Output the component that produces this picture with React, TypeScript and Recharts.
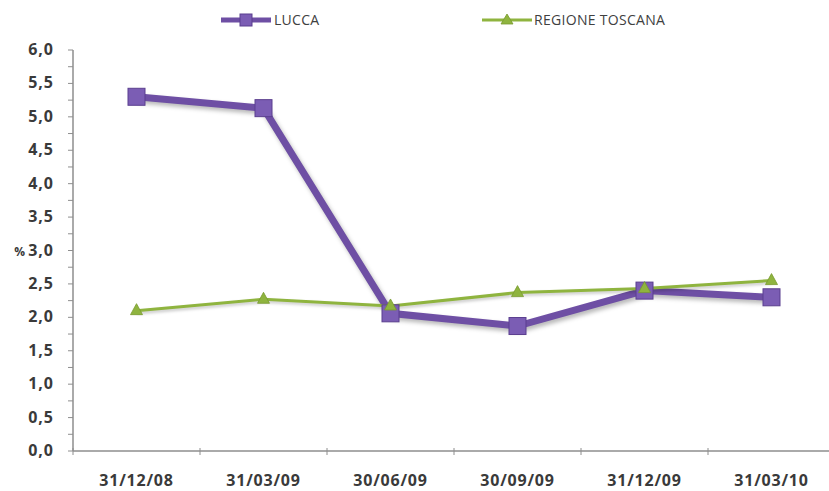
import React from 'react';
import { LineChart, Line, XAxis, YAxis } from 'recharts';

const categories = ['31/12/08', '31/03/09', '30/06/09', '30/09/09', '31/12/09', '31/03/10'];
const luccaValues = [5.3, 5.13, 2.06, 1.87, 2.4, 2.3];
const toscanaValues = [2.1, 2.27, 2.17, 2.37, 2.43, 2.55];
const yTicks = [0, 0.25, 0.5, 0.75, 1, 1.25, 1.5, 1.75, 2, 2.25, 2.5, 2.75, 3, 3.25, 3.5, 3.75, 4, 4.25, 4.5, 4.75, 5, 5.25, 5.5, 5.75, 6];
const seriesNames = { lucca: 'LUCCA', toscana: 'REGIONE TOSCANA' };

const data = categories.map((c, i) => ({ cat: c, lucca: luccaValues[i], toscana: toscanaValues[i] }));

const CHART_W = 845;
const CHART_H = 491;
const XAXIS_H = 30;
const MARGIN = { top: 50, right: 10, bottom: 10, left: 0 };
const YAXIS_W = 73;
const HALF_BAND = (CHART_W - MARGIN.left - MARGIN.right - YAXIS_W) / categories.length / 2;

const PURPLE = '#6e4fa4';
const PURPLE_FILL = '#7b5db4';
const GREEN = '#8fb43f';
const TEXT = '#3a3a3a';
const AXIS = '#8e8e8e';
const FONT = '"Open Sans", Lato, sans-serif';

const YTick = (props: any) => {
  const { x, y, payload } = props;
  const v = payload.value as number;
  if (Math.round(v * 2) !== v * 2) return <g />;
  return (
    <g>
      <text x={x - 12} y={y} dy={5} textAnchor="end" fontFamily={FONT} fontWeight={700} fontSize={16} letterSpacing={1} fill={TEXT}>
        {v.toFixed(1).replace('.', ',')}
      </text>
      {v === 3 && (
        <text x={x - 41} y={y} dy={5} textAnchor="end" fontFamily={FONT} fontWeight={700} fontSize={12} fill={TEXT}>
          %
        </text>
      )}
    </g>
  );
};

const XTick = (props: any) => {
  const { x, y, payload } = props;
  return (
    <g>
      <line x1={x - HALF_BAND} x2={x - HALF_BAND} y1={y - 3} y2={y + 4} stroke={AXIS} strokeWidth={1} />
      <text x={x} y={y + 35} textAnchor="middle" fontFamily={FONT} fontWeight={700} fontSize={16} letterSpacing={0.8} fill={TEXT}>
        {payload.value}
      </text>
    </g>
  );
};

const SquareDot = (props: any) => {
  const { cx, cy } = props;
  if (cx == null || cy == null) return <g />;
  return (
    <rect x={cx - 8.5} y={cy - 8.5} width={17} height={17} fill={PURPLE_FILL} stroke="#5b3f8f" strokeWidth={1} />
  );
};

const TriangleDot = (props: any) => {
  const { cx, cy } = props;
  if (cx == null || cy == null) return <g />;
  return <polygon points={`${cx},${cy - 7} ${cx + 6},${cy + 4} ${cx - 6},${cy + 4}`} fill={GREEN} stroke="#789a2e" strokeWidth={0.8} />;
};

const ChartLegend = () => (
  <div style={{ position: 'absolute', left: 0, top: 0, width: 829, height: 40, fontFamily: FONT, fontSize: 14, letterSpacing: 0.3, color: '#404040', pointerEvents: 'none' }}>
    <div style={{ position: 'absolute', left: 220, top: 11, display: 'flex', alignItems: 'center', lineHeight: '18px' }}>
      <svg width={52} height={18}>
        <line x1={1} x2={51} y1={9} y2={9} stroke={PURPLE} strokeWidth={5} />
        <rect x={20} y={3} width={12} height={12} fill={PURPLE_FILL} stroke="#5b3f8f" strokeWidth={1} />
      </svg>
      <span style={{ marginLeft: 2 }}>{seriesNames.lucca}</span>
    </div>
    <div style={{ position: 'absolute', left: 481, top: 11, display: 'flex', alignItems: 'center', lineHeight: '18px' }}>
      <svg width={52} height={18}>
        <line x1={1} x2={51} y1={9} y2={9} stroke={GREEN} strokeWidth={3} />
        <polygon points="26,3 32,13 20,13" fill={GREEN} stroke="#789a2e" strokeWidth={0.8} />
      </svg>
      <span style={{ marginLeft: 1 }}>{seriesNames.toscana}</span>
    </div>
  </div>
);

export default function App() {
  return (
    <div style={{ position: 'fixed', left: 0, top: 0, width: 829, height: 491, overflow: 'hidden', background: '#ffffff' }}>
      <style>{`
        .lucca-series path, .lucca-series rect { filter: drop-shadow(2px 3px 2px rgba(0,0,0,0.28)); }
        .toscana-series path, .toscana-series polygon { filter: drop-shadow(1px 2px 1.5px rgba(0,0,0,0.22)); }
      `}</style>
      <LineChart width={CHART_W} height={CHART_H} data={data} margin={MARGIN}>
        <XAxis
          dataKey="cat"
          interval={0}
          height={XAXIS_H}
          padding={{ left: HALF_BAND, right: HALF_BAND }}
          tickLine={false}
          tickSize={0}
          tickMargin={0}
          tick={<XTick />}
          axisLine={{ stroke: AXIS, strokeWidth: 1.5 }}
        />
        <YAxis
          width={YAXIS_W}
          domain={[0, 6]}
          ticks={yTicks}
          interval={0}
          tickSize={5}
          tickLine={{ stroke: AXIS }}
          tick={<YTick />}
          axisLine={{ stroke: AXIS, strokeWidth: 1.5 }}
        />
        <Line
          className="lucca-series"
          dataKey="lucca"
          name={seriesNames.lucca}
          stroke={PURPLE}
          strokeWidth={7}
          dot={<SquareDot />}
          activeDot={false}
          isAnimationActive={false}
        />
        <Line
          className="toscana-series"
          dataKey="toscana"
          name={seriesNames.toscana}
          stroke={GREEN}
          strokeWidth={3}
          dot={<TriangleDot />}
          activeDot={false}
          isAnimationActive={false}
        />
      </LineChart>
      <ChartLegend />
    </div>
  );
}
